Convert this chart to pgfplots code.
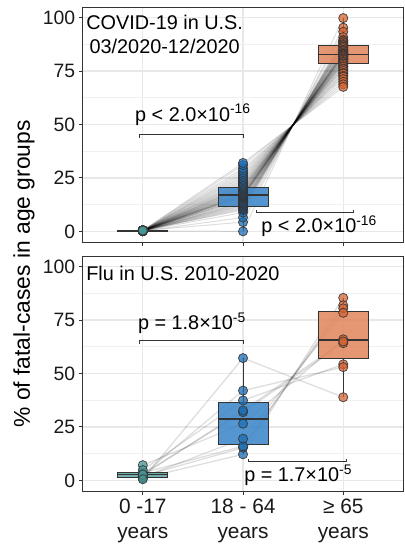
\documentclass[border=0pt]{standalone}
\usepackage{fontspec}
\setmainfont{Liberation Sans}
\usepackage{pgfplots}
\usepackage{pgfplotstable}
\pgfplotsset{compat=1.18}

\definecolor{tealpt}{RGB}{70,150,150}
\definecolor{tealbox}{RGB}{95,165,160}
\definecolor{bluept}{RGB}{30,110,180}
\definecolor{bluebox}{RGB}{62,136,202}
\definecolor{orpt}{RGB}{215,100,50}
\definecolor{orbox}{RGB}{225,136,96}
\definecolor{framec}{RGB}{51,51,51}

% COVID-19: share of fatal cases per state (a: 0-17, b: 18-64, c: >=65)
\pgfplotstableread{
a b c
0.2 0.0 99.8
0.4 4.3 95.3
0.1 6.5 93.4
0.3 8.8 90.9
0.5 10.0 89.5
0.2 10.5 89.3
0.4 11.0 88.6
0.1 11.5 88.4
0.3 12.0 87.7
0.5 12.3 87.2
0.2 12.8 87.0
0.4 13.2 86.4
0.1 13.6 86.3
0.3 14.0 85.7
0.5 14.5 85.0
0.2 15.0 84.8
0.4 15.3 84.3
0.1 15.6 84.3
0.3 16.0 83.7
0.5 16.3 83.2
0.2 16.5 83.3
0.4 16.7 82.9
0.1 16.9 83.0
0.3 17.0 82.7
0.5 17.2 82.3
0.2 17.5 82.3
0.4 17.8 81.8
0.1 18.0 81.9
0.3 18.3 81.4
0.5 18.6 80.9
0.2 19.0 80.8
0.4 19.3 80.3
0.1 19.6 80.3
0.3 20.0 79.7
0.5 20.3 79.2
0.2 20.6 79.2
0.4 21.0 78.6
0.1 21.4 78.5
0.3 21.8 77.9
0.5 22.3 77.2
0.2 22.8 77.0
0.4 23.4 76.2
0.1 24.0 75.9
0.3 24.6 75.1
0.5 25.3 74.2
0.2 26.0 73.8
0.4 26.8 72.8
0.1 27.6 72.3
0.3 28.5 71.2
0.5 29.5 70.0
0.2 31.0 68.8
0.4 32.0 67.6
}\covid

% Flu seasons 2010-2020
\pgfplotstableread{
a b c
1.0 12.2 85.4
2.0 15.3 81.9
3.5 16.0 80.5
1.5 19.5 78.4
7.1 26.5 66.0
3.0 31.9 64.2
2.5 32.7 65.0
4.8 37.4 54.3
2.7 42.0 53.0
0.5 57.2 38.9
}\flu

\newcommand\statelines[2]{%
  \pgfplotstablegetrowsof{#1}%
  \pgfmathtruncatemacro\lastrow{\pgfplotsretval-1}%
  \pgfplotsinvokeforeach{0,...,\lastrow}{%
    \pgfplotstablegetelem{##1}{a}\of#1\edef\va{\pgfplotsretval}%
    \pgfplotstablegetelem{##1}{b}\of#1\edef\vb{\pgfplotsretval}%
    \pgfplotstablegetelem{##1}{c}\of#1\edef\vc{\pgfplotsretval}%
    \edef\cmd{\noexpand\addplot[#2] coordinates {(1,\va)(2,\vb)(3,\vc)};}\cmd
  }}

% box: position, left, right, lower whisker, Q1, median, Q3, upper whisker, fill
\newcommand\bxp[9]{%
  \addplot[draw=framec, line width=0.8bp] coordinates {(#1,#4)(#1,#5)};
  \addplot[draw=framec, line width=0.8bp] coordinates {(#1,#7)(#1,#8)};
  \addplot[draw=framec, line width=0.8bp, fill=#9, fill opacity=0.88] coordinates {(#2,#5)(#3,#5)(#3,#7)(#2,#7)} --cycle;
  \addplot[draw=framec, line width=1.7bp] coordinates {(#2,#6)(#3,#6)};
}

\pgfplotsset{
  panel/.style={
    width=322bp, height=236bp, scale only axis,
    xmin=0.4, xmax=3.6, ymin=-5, ymax=105,
    xtick={1,2,3}, ytick={0,25,50,75,100},
    minor ytick={12.5,37.5,62.5,87.5},
    grid=both,
    major grid style={color=black!9, line width=1.3bp},
    minor grid style={color=black!6, line width=0.7bp},
    axis line style={draw=framec, line width=0.9bp},
    tick align=outside, tick pos=left,
    major tick length=4bp, minor tick length=0pt,
    tick style={draw=framec, line width=0.9bp},
    /pgf/number format/assume math mode=true,
    yticklabel style={font=\fontsize{19.5}{20}\selectfont, text=black!90},
    xticklabel style={font=\fontsize{21}{25.5}\selectfont, align=center, text=black!90},
    clip=false,
  },
  covidline/.style={black, draw opacity=0.13, line width=1.0bp},
  fluline/.style={black, draw opacity=0.13, line width=1.3bp},
  pts/.style={only marks, mark=*, mark size=4.6bp,
    mark options={fill=#1, fill opacity=0.75, draw=framec, draw opacity=0.85, line width=0.8bp}},
}
\tikzset{
  plab/.style={font=\fontsize{20}{24}\selectfont, text=black},
  brk/.style={draw=framec, line width=1bp},
}

\begin{document}
\begin{tikzpicture}
\path (0,0) rectangle (406bp,-546bp);

% ---------- COVID panel ----------
\begin{axis}[panel, at={(83bp,-7bp)}, anchor=north west, xticklabels={}]
\statelines{\covid}{covidline}
\bxp{1}{0.75}{1.25}{0}{0.1}{0.25}{0.4}{0.5}{tealbox}
\bxp{2}{1.75}{2.25}{0}{11.8}{16.9}{20.65}{32}{bluebox}
\bxp{3}{2.75}{3.25}{67.6}{78.6}{82.8}{87.2}{99.8}{orbox}
\addplot[pts=tealpt] table[x expr=1, y=a] {\covid};
\addplot[pts=bluept] table[x expr=2, y=b] {\covid};
\addplot[pts=orpt] table[x expr=3, y=c] {\covid};
\draw[brk] (axis cs:0.97,43.8) -- (axis cs:0.97,45.2) -- (axis cs:2.0,45.2) -- (axis cs:2.0,43.8);
\node[plab] at (axis cs:1.5,54.5) {p < 2.0×10\textsuperscript{-16}};
\draw[brk] (axis cs:2.13,10.1) -- (axis cs:2.13,8.7) -- (axis cs:3.10,8.7) -- (axis cs:3.10,10.1);
\node[plab] at (axis cs:2.76,2.3) {p < 2.0×10\textsuperscript{-16}};
\node[plab, anchor=north west, align=center, inner sep=0pt] at ([xshift=3.5bp,yshift=-8bp]rel axis cs:0,1) {COVID-19 in U.S.\\03/2020-12/2020};
\end{axis}

% ---------- Flu panel ----------
\begin{axis}[panel, at={(83bp,-257bp)}, anchor=north west,
  xticklabels={0 -17\\years, 18 - 64\\years, ≥ 65\\years}]
\statelines{\flu}{fluline}
\bxp{1}{0.75}{1.25}{0.5}{1.5}{2.7}{3.8}{7.1}{tealbox}
\bxp{2}{1.75}{2.25}{12.2}{16.7}{28.8}{36.3}{57.2}{bluebox}
\bxp{3}{2.75}{3.25}{38.9}{57.1}{65.7}{78.9}{85.4}{orbox}
\addplot[pts=tealpt] table[x expr=1, y=a] {\flu};
\addplot[pts=bluept] table[x expr=2, y=b] {\flu};
\addplot[pts=orpt] table[x expr=3, y=c] {\flu};
\draw[brk] (axis cs:0.97,63.9) -- (axis cs:0.97,65.3) -- (axis cs:2.0,65.3) -- (axis cs:2.0,63.9);
\node[plab] at (axis cs:1.49,73.6) {p = 1.8×10\textsuperscript{-5}};
\draw[brk] (axis cs:2.05,10.1) -- (axis cs:2.05,8.7) -- (axis cs:3.03,8.7) -- (axis cs:3.03,10.1);
\node[plab] at (axis cs:2.55,2.3) {p = 1.7×10\textsuperscript{-5}};
\node[plab, anchor=north west, inner sep=0pt] at ([xshift=3.5bp,yshift=-9.5bp]rel axis cs:0,1) {Flu in U.S. 2010-2020};
\end{axis}

\node[rotate=90, font=\fontsize{23}{26}\selectfont, text=black] at (24bp,-275bp) {\% of fatal-cases in age groups};
\end{tikzpicture}
\end{document}
